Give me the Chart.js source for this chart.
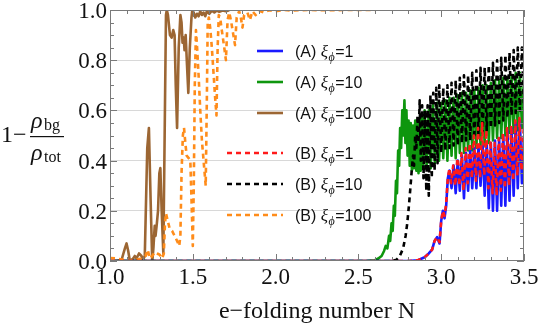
<!DOCTYPE html>
<html>
<head>
<meta charset="utf-8">
<script src="https://cdn.jsdelivr.net/npm/chart.js@4.4.1/dist/chart.umd.min.js"></script>
<style>
  html, body { margin: 0; padding: 0; background: #fff; }
  canvas { display: block; }
</style>
</head>
<body>
<canvas id="chart" width="542" height="323"></canvas>
<script>
// axis ticks
const xTicks = [1.0, 1.5, 2.0, 2.5, 3.0, 3.5];
const yTicks = [0.0, 0.2, 0.4, 0.6, 0.8, 1.0];

// series as [N, 1 - rho_bg/rho_tot]
const seriesA1 = [[1.0,0],[2.8,0],[2.86,0.003],[2.9,0.015],[2.925,0.03],[2.945,0.045],[2.96,0.08],[2.975,0.095],[2.99,0.07],[3.0,0.16],[3.01,0.2],[3.02,0.17],[3.03,0.22],[3.04,0.33],[3.05,0.36],[3.0625,0.29],[3.075,0.38],[3.0875,0.27],[3.1,0.4],[3.1125,0.28],[3.125,0.42],[3.1375,0.25],[3.15,0.43],[3.1625,0.28],[3.175,0.44],[3.1875,0.29],[3.2,0.45],[3.2125,0.29],[3.225,0.46],[3.2375,0.3],[3.25,0.46],[3.2625,0.26],[3.275,0.47],[3.2875,0.21],[3.3,0.47],[3.3125,0.2],[3.325,0.48],[3.3375,0.2],[3.35,0.49],[3.3625,0.22],[3.375,0.5],[3.3875,0.22],[3.4,0.52],[3.4125,0.24],[3.425,0.53],[3.4375,0.26],[3.45,0.55],[3.4625,0.29],[3.475,0.56],[3.4875,0.31],[3.5,0.5]];

const seriesA10 = [[1.0,0],[2.55,0],[2.6,0.003],[2.62,0.01],[2.64,0.02],[2.655,0.04],[2.665,0.06],[2.675,0.05],[2.685,0.1],[2.692,0.08],[2.7,0.15],[2.707,0.12],[2.714,0.22],[2.72,0.18],[2.727,0.32],[2.733,0.27],[2.74,0.44],[2.746,0.38],[2.752,0.53],[2.758,0.45],[2.765,0.6],[2.771,0.5],[2.778,0.64],[2.784,0.47],[2.79,0.6],[2.797,0.42],[2.803,0.56],[2.81,0.38],[2.816,0.55],[2.823,0.36],[2.83,0.54],[2.836,0.37],[2.843,0.56],[2.85,0.36],[2.856,0.55],[2.863,0.35],[2.87,0.57],[2.876,0.36],[2.883,0.58],[2.89,0.37],[2.9,0.6],[2.912,0.38],[2.925,0.6],[2.937,0.37],[2.95,0.62],[2.962,0.39],[2.975,0.63],[2.987,0.4],[3.0,0.63],[3.0125,0.41],[3.025,0.64],[3.0375,0.4],[3.05,0.65],[3.0625,0.42],[3.075,0.65],[3.0875,0.41],[3.1,0.66],[3.1125,0.43],[3.125,0.67],[3.1375,0.43],[3.15,0.67],[3.1625,0.44],[3.175,0.68],[3.1875,0.44],[3.2,0.68],[3.2125,0.45],[3.225,0.69],[3.2375,0.46],[3.25,0.7],[3.2625,0.46],[3.275,0.7],[3.2875,0.47],[3.3,0.71],[3.3125,0.48],[3.325,0.72],[3.3375,0.49],[3.35,0.72],[3.3625,0.49],[3.375,0.73],[3.3875,0.5],[3.4,0.73],[3.4125,0.51],[3.425,0.74],[3.4375,0.51],[3.45,0.75],[3.4625,0.52],[3.475,0.75],[3.4875,0.53],[3.5,0.74]];

const seriesA100 = [[1.0,0],[1.04,0],[1.07,0.005],[1.09,0.05],[1.1,0.07],[1.11,0.04],[1.12,0],[1.14,0.01],[1.15,0.02],[1.16,0.01],[1.175,0.03],[1.19,0.02],[1.2,0.005],[1.21,0.02],[1.225,0.45],[1.235,0.53],[1.245,0.25],[1.255,-0.005],[1.262,0.05],[1.27,0.14],[1.275,0.1],[1.283,0.15],[1.29,0.2],[1.298,0.35],[1.304,0.37],[1.312,0.2],[1.322,0.03],[1.33,0.5],[1.338,0.98],[1.343,1.0],[1.35,0.98],[1.362,0.9],[1.372,0.89],[1.382,0.92],[1.39,0.9],[1.397,0.7],[1.405,0.53],[1.415,0.85],[1.425,0.98],[1.432,0.95],[1.438,0.87],[1.445,0.89],[1.45,0.84],[1.457,0.9],[1.465,0.78],[1.473,0.67],[1.482,0.85],[1.492,0.97],[1.497,1.0],[1.505,0.99],[1.515,0.97],[1.525,0.985],[1.535,0.975],[1.545,0.995],[1.555,0.98],[1.565,0.99],[1.575,0.975],[1.585,0.995],[1.6,0.985],[1.615,0.997],[1.63,0.99],[1.645,0.998],[1.66,0.993],[1.68,0.998],[1.7,0.995],[1.72,0.999]];

const seriesB1 = [[1.0,0],[2.8,0],[2.86,0.003],[2.9,0.015],[2.925,0.03],[2.945,0.045],[2.96,0.08],[2.975,0.095],[2.99,0.075],[3.0,0.16],[3.01,0.2],[3.02,0.18],[3.03,0.23],[3.04,0.33],[3.05,0.37],[3.06,0.31],[3.0725,0.38],[3.085,0.3],[3.0975,0.41],[3.11,0.3],[3.1225,0.43],[3.135,0.28],[3.1475,0.45],[3.16,0.31],[3.1725,0.47],[3.185,0.33],[3.1975,0.5],[3.21,0.32],[3.2225,0.53],[3.235,0.33],[3.2475,0.55],[3.26,0.34],[3.2725,0.52],[3.285,0.29],[3.2975,0.48],[3.31,0.27],[3.3225,0.47],[3.335,0.26],[3.3475,0.49],[3.36,0.28],[3.3725,0.51],[3.385,0.29],[3.3975,0.53],[3.41,0.3],[3.4225,0.54],[3.435,0.32],[3.4475,0.56],[3.46,0.34],[3.4725,0.57],[3.485,0.36],[3.5,0.55]];

const seriesB10 = [[1.0,0],[2.7,0],[2.73,0.005],[2.75,0.02],[2.77,0.05],[2.785,0.1],[2.795,0.15],[2.805,0.22],[2.815,0.3],[2.822,0.36],[2.83,0.42],[2.836,0.38],[2.843,0.5],[2.85,0.45],[2.857,0.58],[2.863,0.47],[2.87,0.64],[2.877,0.4],[2.885,0.62],[2.893,0.33],[2.902,0.6],[2.91,0.28],[2.918,0.62],[2.925,0.26],[2.935,0.66],[2.943,0.33],[2.952,0.67],[2.96,0.36],[2.97,0.69],[2.978,0.39],[2.988,0.7],[3.0,0.43],[3.0125,0.69],[3.025,0.44],[3.0375,0.7],[3.05,0.45],[3.0625,0.71],[3.075,0.46],[3.0875,0.72],[3.1,0.46],[3.1125,0.73],[3.125,0.47],[3.1375,0.74],[3.15,0.48],[3.1625,0.74],[3.175,0.48],[3.1875,0.75],[3.2,0.49],[3.2125,0.76],[3.225,0.5],[3.2375,0.77],[3.25,0.51],[3.2625,0.77],[3.275,0.52],[3.2875,0.78],[3.3,0.53],[3.3125,0.79],[3.325,0.54],[3.3375,0.8],[3.35,0.55],[3.3625,0.81],[3.375,0.56],[3.3875,0.82],[3.4,0.57],[3.4125,0.83],[3.425,0.58],[3.4375,0.84],[3.45,0.59],[3.4625,0.85],[3.475,0.6],[3.4875,0.85],[3.5,0.61]];

const seriesB100 = [[1.0,0.012],[1.04,0.01],[1.08,0.005],[1.11,0],[1.15,0.003],[1.19,0.01],[1.215,0.02],[1.228,0.045],[1.24,0.01],[1.255,0.02],[1.27,0.035],[1.285,0.03],[1.3,0.025],[1.315,0.01],[1.325,0.03],[1.332,0.15],[1.338,0.19],[1.345,0.17],[1.36,0.13],[1.375,0.12],[1.39,0.1],[1.405,0.08],[1.418,0.06],[1.425,0.1],[1.432,0.35],[1.44,0.5],[1.447,0.53],[1.455,0.47],[1.463,0.42],[1.475,0.41],[1.485,0.4],[1.492,0.25],[1.5,0.06],[1.506,0.3],[1.512,0.7],[1.519,0.92],[1.526,0.85],[1.535,0.74],[1.545,0.6],[1.555,0.48],[1.565,0.4],[1.578,0.3],[1.585,0.65],[1.59,0.95],[1.597,0.97],[1.605,0.93],[1.615,0.85],[1.625,0.75],[1.635,0.65],[1.643,0.58],[1.65,0.85],[1.657,0.98],[1.665,0.97],[1.675,0.92],[1.69,0.85],[1.7,0.8],[1.71,0.96],[1.72,0.99],[1.73,0.96],[1.745,0.9],[1.755,0.86],[1.765,0.97],[1.78,0.995],[1.79,0.97],[1.8,0.93],[1.81,0.98],[1.83,0.99],[1.845,0.96],[1.86,0.995],[1.88,0.98],[1.9,0.997],[1.93,0.99],[1.96,0.999],[2.0,0.995],[2.05,1.0],[2.1,0.998],[2.2,1.0],[2.3,0.999],[2.45,1.0],[2.6,1.0]];

const toPoints = arr => arr.map(p => ({ x: p[0], y: p[1] }));

// first dataset is drawn on top in Chart.js
const datasets = [
  { id: 'B1',   group: '(B) ', xi: '1',   data: toPoints(seriesB1),   borderColor: '#ff1a1a', borderDash: [5, 4], borderDashOffset: 0 },
  { id: 'B10',  group: '(B) ', xi: '10',  data: toPoints(seriesB10),  borderColor: '#000000', borderDash: [5, 4], borderDashOffset: 4.5 },
  { id: 'B100', group: '(B) ', xi: '100', data: toPoints(seriesB100), borderColor: '#ff8c1a', borderDash: [5, 4], borderDashOffset: 0 },
  { id: 'A1',   group: '(A) ', xi: '1',   data: toPoints(seriesA1),   borderColor: '#1a1aff' },
  { id: 'A10',  group: '(A) ', xi: '10',  data: toPoints(seriesA10),  borderColor: '#0e960e' },
  { id: 'A100', group: '(A) ', xi: '100', data: toPoints(seriesA100), borderColor: '#9c6633' }
].map(d => Object.assign({
  borderWidth: 2.6,
  pointRadius: 0,
  tension: 0,
  fill: false,
  borderJoinStyle: 'round',
  borderCapStyle: 'butt'
}, d));

// legend rows: dataset id and y position of the sample line
const legendRows = [['A1', 51], ['A10', 82], ['A100', 113], ['B1', 153], ['B10', 184], ['B100', 215]];

const serif = "'Liberation Serif', 'Times New Roman', serif";
const sans = "'Liberation Sans', Arial, sans-serif";

const framePlugin = {
  id: 'frame',
  afterDatasetsDraw(chart) {
    const { ctx, chartArea: a, scales: { x, y } } = chart;
    ctx.save();
    ctx.strokeStyle = '#7a7a7a';
    ctx.lineWidth = 1;
    ctx.setLineDash([]);
    ctx.strokeRect(a.left + 0.5, a.top + 0.5, a.width - 1, a.height - 1);
    ctx.beginPath();
    // x ticks every 0.1, major every 0.5
    for (let i = 0; i <= 25; i++) {
      const v = 1 + i * 0.1;
      const px = Math.round(x.getPixelForValue(v)) + 0.5;
      const len = i % 5 === 0 ? 7 : 4;
      ctx.moveTo(px, a.bottom); ctx.lineTo(px, a.bottom - len);
      ctx.moveTo(px, a.top); ctx.lineTo(px, a.top + len);
    }
    // y ticks every 0.05, major every 0.2
    for (let i = 0; i <= 20; i++) {
      const v = i * 0.05;
      const py = Math.round(y.getPixelForValue(v)) + 0.5;
      const len = i % 4 === 0 ? 7 : 4;
      ctx.moveTo(a.left, py); ctx.lineTo(a.left + len, py);
      ctx.moveTo(a.right, py); ctx.lineTo(a.right - len, py);
    }
    ctx.stroke();
    ctx.restore();
  },
  afterDraw(chart) {
    const { ctx, chartArea: a, scales: { x, y } } = chart;
    ctx.save();
    ctx.fillStyle = '#111';
    ctx.textBaseline = 'alphabetic';

    // tick labels, placed through the scales
    ctx.font = '23px ' + serif;
    ctx.textAlign = 'center';
    x.ticks.forEach(t => ctx.fillText(t.value.toFixed(1), x.getPixelForValue(t.value), 284));
    ctx.textAlign = 'right';
    y.ticks.forEach(t => ctx.fillText(t.value.toFixed(1), 107, y.getPixelForValue(t.value) + 8));

    // x axis title
    ctx.font = '24px ' + serif;
    ctx.textAlign = 'center';
    ctx.fillText('e\u2212folding number N', (a.left + a.right) / 2, 318);

    // y axis title: 1 - rho_bg / rho_tot
    ctx.textAlign = 'left';
    ctx.font = '24px ' + serif;
    ctx.fillText('1\u2212', 1, 142);
    ctx.font = 'italic 24px ' + serif;
    ctx.fillText('\u03c1', 31, 128);
    ctx.fillText('\u03c1', 31, 160);
    ctx.font = '16px ' + serif;
    ctx.fillText('bg', 44, 130);
    ctx.fillText('tot', 44, 162);
    ctx.fillRect(30, 136, 34, 1.2);

    // legend
    legendRows.forEach(([id, ly]) => {
      const ds = chart.data.datasets.find(d => d.id === id);
      const dashed = !!ds.borderDash;
      ctx.beginPath();
      ctx.strokeStyle = ds.borderColor;
      ctx.lineWidth = ds.borderWidth;
      ctx.setLineDash(dashed ? ds.borderDash : []);
      ctx.moveTo(dashed ? 227 : 257, ly);
      ctx.lineTo(283, ly);
      ctx.stroke();

      let tx = 295;
      const base = ly + 6;
      ctx.textAlign = 'left';
      ctx.font = '16px ' + sans;
      ctx.fillText(ds.group, tx, base);
      tx += ctx.measureText(ds.group).width;
      ctx.font = 'italic 17px ' + serif;
      ctx.fillText('\u03be', tx, base);
      tx += ctx.measureText('\u03be').width + 0.5;
      ctx.font = 'italic 12px ' + serif;
      ctx.fillText('\u03d5', tx, base + 4);
      tx += ctx.measureText('\u03d5').width + 0.5;
      ctx.font = '16px ' + sans;
      ctx.fillText('=' + ds.xi, tx, base);
    });
    ctx.restore();
  }
};

new Chart(document.getElementById('chart'), {
  type: 'line',
  data: { datasets },
  options: {
    responsive: false,
    animation: false,
    devicePixelRatio: 1,
    layout: { padding: { left: 0, right: 18, top: 10, bottom: 0 } },
    scales: {
      x: {
        type: 'linear',
        min: 1,
        max: 3.5,
        afterBuildTicks: s => { s.ticks = xTicks.map(v => ({ value: v })); },
        afterFit: s => { s.height = 62; },
        ticks: { display: false },
        grid: { display: false, drawTicks: false },
        border: { display: false }
      },
      y: {
        min: 0,
        max: 1,
        afterBuildTicks: s => { s.ticks = yTicks.map(v => ({ value: v })); },
        afterFit: s => { s.width = 110; },
        ticks: { display: false },
        grid: {
          drawTicks: false,
          lineWidth: 1,
          color: c => (c.tick && c.tick.value > 0.01 && c.tick.value < 0.99) ? '#d8d8d8' : 'rgba(0,0,0,0)'
        },
        border: { display: false }
      }
    },
    plugins: {
      legend: { display: false },
      tooltip: { enabled: false }
    }
  },
  plugins: [framePlugin]
});
</script>
</body>
</html>
